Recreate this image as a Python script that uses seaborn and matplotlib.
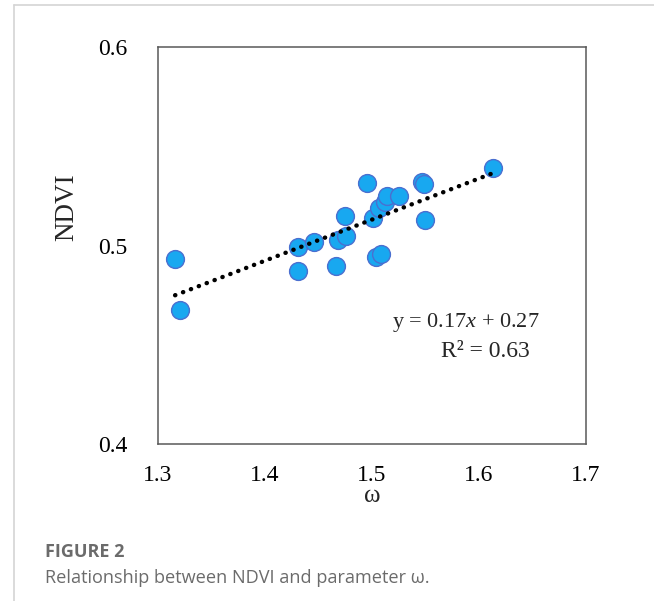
import matplotlib
matplotlib.use("Agg")
import matplotlib.pyplot as plt
import seaborn as sns
import pandas as pd
from matplotlib.lines import Line2D

# omega values and corresponding NDVI
omega = [1.316, 1.321, 1.431, 1.431, 1.446, 1.466, 1.468, 1.476, 1.475, 1.495,
         1.501, 1.504, 1.508, 1.507, 1.512, 1.514, 1.525, 1.547, 1.549, 1.550, 1.613]
ndvi = [0.4934, 0.4677, 0.4995, 0.4874, 0.5020, 0.4899, 0.5030, 0.5050, 0.5150, 0.5313,
        0.5140, 0.4940, 0.4955, 0.5187, 0.5217, 0.5250, 0.5250, 0.5320, 0.5310, 0.5126, 0.5390]

x_ticks = [1.3, 1.4, 1.5, 1.6, 1.7]
y_ticks = [0.4, 0.5, 0.6]
equation_text = "y = 0.17$x$ + 0.27"
r2_text = "R² = 0.63"

df = pd.DataFrame({"omega": omega, "NDVI": ndvi})

sns.set_theme(style="white")
plt.rcParams["font.family"] = ["Liberation Serif", "DejaVu Serif"]
plt.rcParams["mathtext.fontset"] = "custom"
plt.rcParams["mathtext.it"] = "Liberation Serif:italic"
plt.rcParams["mathtext.rm"] = "Liberation Serif"

fig = plt.figure(figsize=(6.54, 6.01), dpi=100)
ax = fig.add_axes([0.2416, 0.2612, 0.6544, 0.6606])

# linear trend line (dotted)
sns.regplot(data=df, x="omega", y="NDVI", ax=ax, ci=None, scatter=False,
            truncate=True,
            line_kws=dict(color="black", linewidth=3.2, linestyle=(0, (0.05, 1.85)),
                          dash_capstyle="round", zorder=3))
# observations
sns.scatterplot(data=df, x="omega", y="NDVI", ax=ax, s=165, color="#18A8F0",
                edgecolor="#4A6FD0", linewidth=1.0, zorder=2)

ax.set_xlim(1.3, 1.7)
ax.set_ylim(0.4, 0.6)
ax.set_xticks(x_ticks)
ax.set_yticks(y_ticks)
ax.set_xticklabels([f"{v:.1f}" for v in x_ticks])
ax.set_yticklabels([f"{v:.1f}" for v in y_ticks])
ax.tick_params(axis="both", direction="in", length=8, width=1, colors="#595959",
               labelcolor="black", labelsize=17)
ax.tick_params(axis="x", pad=15)
ax.tick_params(axis="y", pad=22)
for sp in ax.spines.values():
    sp.set_color("#595959")
    sp.set_linewidth(1.1)
    sp.set_visible(True)

ax.set_xlabel("ω", fontsize=18)
ax.set_ylabel("NDVI", fontsize=19.5)
ax.xaxis.set_label_coords(0.501, -0.102)
ax.yaxis.set_label_coords(-0.185, 0.597)

ax.text(0.72, 0.305, equation_text, transform=ax.transAxes, ha="center", va="center",
        fontsize=16)
ax.text(0.766, 0.232, r2_text, transform=ax.transAxes, ha="center", va="center",
        fontsize=17)

# page frame and caption
fig.add_artist(Line2D([14 / 654, 14 / 654], [0, 1 - 5 / 601], transform=fig.transFigure,
                      color="#d4d4d4", linewidth=1.2))
fig.add_artist(Line2D([14 / 654, 1], [1 - 5 / 601, 1 - 5 / 601], transform=fig.transFigure,
                      color="#d4d4d4", linewidth=1.2))
fig.text(45 / 654, 1 - 552 / 601, "FIGURE 2", fontsize=13, fontweight="bold",
         color="#6b6b6b", family=["Open Sans", "DejaVu Sans"], va="center")
fig.text(45 / 654, 1 - 578 / 601, "Relationship between NDVI and parameter ω.",
         fontsize=13.1, color="#6b6b6b", family=["Open Sans", "DejaVu Sans"], va="center")

fig.savefig("out.png", dpi=100)
